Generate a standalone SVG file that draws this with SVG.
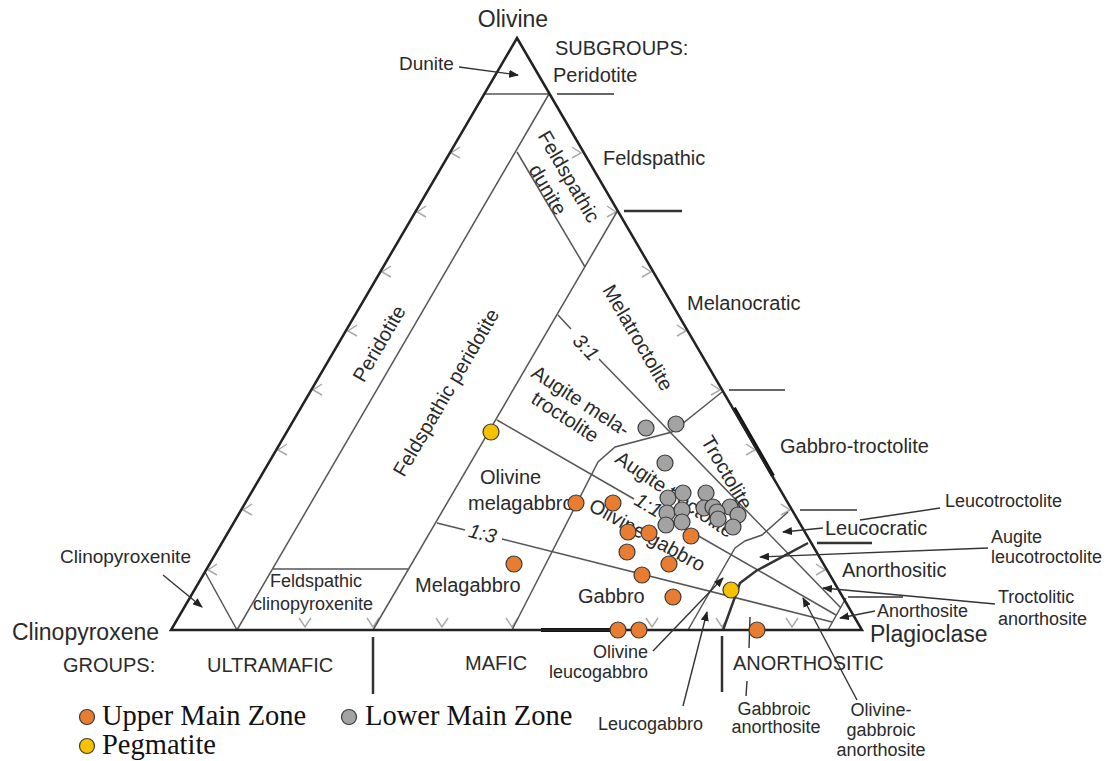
<svg xmlns="http://www.w3.org/2000/svg" width="1107" height="761" viewBox="0 0 1107 761">
<defs>
<marker id="ah" viewBox="0 0 10 8" refX="9" refY="4" markerWidth="10" markerHeight="8" markerUnits="userSpaceOnUse" orient="auto">
<path d="M0,0 L10,4 L0,8 z" fill="#222"/>
</marker>
<style>
.t{font-family:"Liberation Sans",Arial,sans-serif;fill:#2a2a2a}
.big{font-size:23px}
.md{font-size:20px}
.sm{font-size:18px}
.it{font-style:italic}
.lg{font-family:"Liberation Serif","Times New Roman",serif;font-size:28.5px;fill:#111}
.edge{fill:none;stroke:#222;stroke-width:2.5;stroke-linejoin:miter}
.ln{fill:none;stroke:#555;stroke-width:1.5}
.thk{fill:none;stroke:#111;stroke-width:4}
.dk{fill:none;stroke:#333;stroke-width:2.5}
.tk{fill:none;stroke:#666;stroke-width:2}
.ch{fill:none;stroke:#aaa;stroke-width:1.5}
.ld{fill:none;stroke:#333;stroke-width:1.4}
.ldA{fill:none;stroke:#333;stroke-width:1.4;marker-end:url(#ah)}
.o{fill:#e87d32;stroke:#3a3a3a;stroke-width:1.2}
.g{fill:#a3a3a3;stroke:#3a3a3a;stroke-width:1.2}
.y{fill:#f6c200;stroke:#3a3a3a;stroke-width:1.2}
</style>
</defs>
<rect width="1107" height="761" fill="#fff"/>

<g id="chevrons">
<path class="ch" d="M460,147 L451,153 L460,158 M426,206 L417,212 L426,217 M391,266 L382,272 L391,277 M357,325 L348,331 L357,336 M322,384 L313,390 L322,395 M287,444 L278,450 L287,455 M252,504 L243,510 L252,515 M217,564 L208,570 L217,575"/>
<path class="ch" d="M572,147 L581,153 L572,158 M607,206 L616,212 L607,217 M642,266 L651,272 L642,277 M677,325 L686,331 L677,336 M711,384 L720,390 L711,395 M746,444 L755,450 L746,455 M781,504 L790,510 L781,515 M816,564 L825,570 L816,575"/>
<path class="ch" d="M299,618 L305,627 L311,618 M367,618 L373,627 L379,618 M436,618 L442,627 L448,618 M506,618 L512,627 L518,618 M646,618 L652,627 L658,618 M716,618 L722,627 L728,618 M786,618 L792,627 L798,618"/>
</g>

<g id="field-lines">
<path class="ln" d="M484,94 H549"/>
<path class="ln" d="M549,94 L237,630"/>
<path class="ln" d="M517,152 L585,267"/>
<path class="ln" d="M618,210 L373,630"/>
<path class="ln" d="M273,569 H408"/>
<path class="ln" d="M205,572 L237,630"/>
<path class="ln" d="M722,392 L672,432 L615,447 L598,462 L512,630"/>
<path class="ln" d="M558,315 L571,329 M599,359 L841,608"/>
<path class="ln" d="M497,420 L634,499 M662,515 L836,615"/>
<path class="ln" d="M437,523 L465,530 M502,539 L832,622"/>
<path class="ln" d="M788,512 L762,535 L745,541 L735,548 L688,630"/>
<path class="ln" d="M846,598 L828,630"/>
<path class="dk" d="M808,543 L756,571 L740,583 L723,630"/>
<path class="thk" d="M541,630 H614"/>
<path class="thk" d="M734,408 L773,476"/>
</g>

<g id="triangle">
<path class="edge" d="M517,38 L862,630 L171,630 Z"/>
</g>

<g id="scale-ticks">
<path class="tk" d="M557,94 H614"/>
<path class="dk" d="M624,211 H682"/>
<path class="tk" d="M729,390 H785"/>
<path class="tk" d="M800,510 H857"/>
<path class="dk" d="M817,543 H872"/>
<path class="tk" d="M848,597 H903"/>
<path class="dk" d="M373,637 V694"/>
<path class="dk" d="M722,636 V692"/>
</g>

<g id="connectors">
<path class="ldA" d="M459,67 L518,75"/>
<path class="ldA" d="M163,575 L202,607"/>
<path class="ld" d="M940,508 L860,520"/>
<path class="ldA" d="M823,528 L783,532"/>
<path class="ldA" d="M988,548 L760,557"/>
<path class="ldA" d="M995,604 L823,588"/>
<path class="ldA" d="M875,611 L840,618"/>
<path class="ldA" d="M857,700 L803,598"/>
<path class="ld" d="M750,617 L749,648 M747,681 L746,696"/>
<path class="ldA" d="M683,706 L707,612"/>
<path class="ldA" d="M653,651 L723,578"/>
</g>

<g id="labels">
<text class="t big" x="513" y="27" text-anchor="middle">Olivine</text>
<text class="t md" x="555" y="55">SUBGROUPS:</text>
<text class="t md" x="553" y="82">Peridotite</text>
<text class="t" style="font-size:19px" x="399" y="70">Dunite</text>
<text class="t md" x="603" y="165">Feldspathic</text>
<text class="t md" x="687" y="310">Melanocratic</text>
<text class="t md" x="780" y="453">Gabbro-troctolite</text>
<text class="t md" x="825" y="535">Leucocratic</text>
<text class="t md" x="842" y="577">Anorthositic</text>
<text class="t big" x="870" y="642">Plagioclase</text>
<text class="t big" x="12" y="640">Clinopyroxene</text>
<text class="t md" x="63" y="672">GROUPS:</text>
<text class="t md" x="207" y="672">ULTRAMAFIC</text>
<text class="t md" x="465" y="670">MAFIC</text>
<text class="t md" x="733" y="670">ANORTHOSITIC</text>
<text class="t" style="font-size:19px" x="60" y="563">Clinopyroxenite</text>
<text class="t sm" x="270" y="587">Feldspathic</text>
<text class="t sm" x="253" y="610">clinopyroxenite</text>
<text class="t md" x="415" y="592">Melagabbro</text>
<text class="t md" x="578" y="603">Gabbro</text>
<text class="t md" x="480" y="484">Olivine</text>
<text class="t md" x="468" y="510">melagabbro</text>
<text class="t md" transform="translate(385,347) rotate(-59.7)" text-anchor="middle">Peridotite</text>
<text class="t md" transform="translate(452,396) rotate(-59.7)" text-anchor="middle">Feldspathic peridotite</text>
<text class="t md" transform="translate(563,180) rotate(59.7)" text-anchor="middle">Feldspathic</text>
<text class="t md" transform="translate(542,193) rotate(59.7)" text-anchor="middle">dunite</text>
<text class="t md" transform="translate(632,341) rotate(59.7)" text-anchor="middle">Melatroctolite</text>
<text class="t md" transform="translate(721,476) rotate(59.7)" text-anchor="middle">Troctolite</text>
<text class="t md" transform="translate(530,376) rotate(33)"><tspan x="0" y="0">Augite mela-</tspan><tspan x="14" y="22">troctolite</tspan></text>
<text class="t md" transform="translate(671,500) rotate(34)" text-anchor="middle">Augite troctolite</text>
<text class="t md" transform="translate(644,541) rotate(29)" text-anchor="middle">Olivine gabbro</text>
<text class="t md it" transform="translate(581,352) rotate(47)" text-anchor="middle">3:1</text>
<text class="t md it" transform="translate(645,511) rotate(30)" text-anchor="middle">1:1</text>
<text class="t md it" transform="translate(481,540) rotate(14)" text-anchor="middle">1:3</text>
<text class="t sm" x="945" y="507">Leucotroctolite</text>
<text class="t sm" x="991" y="543">Augite</text>
<text class="t sm" x="991" y="563">leucotroctolite</text>
<text class="t sm" x="998" y="603">Troctolitic</text>
<text class="t sm" x="998" y="625">anorthosite</text>
<text class="t sm" x="877" y="617">Anorthosite</text>
<text class="t sm" x="648" y="658" text-anchor="end">Olivine</text>
<text class="t sm" x="648" y="678" text-anchor="end">leucogabbro</text>
<text class="t sm" x="598" y="730">Leucogabbro</text>
<text class="t sm" x="774" y="715" text-anchor="middle">Gabbroic</text>
<text class="t sm" x="776" y="733" text-anchor="middle">anorthosite</text>
<text class="t sm" x="881" y="716" text-anchor="middle">Olivine-</text>
<text class="t sm" x="881" y="736" text-anchor="middle">gabbroic</text>
<text class="t sm" x="881" y="756" text-anchor="middle">anorthosite</text>
</g>

<g id="data-lower">
<circle class="g" cx="646" cy="428" r="8"/>
<circle class="g" cx="676" cy="424" r="8"/>
<circle class="g" cx="665" cy="463" r="8"/>
<circle class="g" cx="668" cy="498" r="8"/>
<circle class="g" cx="683" cy="493" r="8"/>
<circle class="g" cx="706" cy="493" r="8"/>
<circle class="g" cx="667" cy="513" r="8"/>
<circle class="g" cx="682" cy="510" r="8"/>
<circle class="g" cx="666" cy="525" r="8"/>
<circle class="g" cx="682" cy="522" r="8"/>
<circle class="g" cx="704" cy="508" r="8"/>
<circle class="g" cx="713" cy="507" r="8"/>
<circle class="g" cx="730" cy="507" r="8"/>
<circle class="g" cx="717" cy="512" r="8"/>
<circle class="g" cx="718" cy="519" r="8"/>
<circle class="g" cx="738" cy="515" r="8"/>
<circle class="g" cx="733" cy="527" r="8"/>
</g>
<g id="data-upper">
<circle class="o" cx="576" cy="503" r="8"/>
<circle class="o" cx="613" cy="503" r="8"/>
<circle class="o" cx="628" cy="532" r="8"/>
<circle class="o" cx="649" cy="533" r="8"/>
<circle class="o" cx="691" cy="536" r="8"/>
<circle class="o" cx="627" cy="552" r="8"/>
<circle class="o" cx="669" cy="564" r="8"/>
<circle class="o" cx="642" cy="575" r="8"/>
<circle class="o" cx="514" cy="564" r="8"/>
<circle class="o" cx="673" cy="597" r="8"/>
<circle class="o" cx="618" cy="630" r="8"/>
<circle class="o" cx="639" cy="630" r="8"/>
<circle class="o" cx="757" cy="630" r="8"/>
</g>
<g id="data-pegmatite">
<circle class="y" cx="491" cy="432" r="8"/>
<circle class="y" cx="731" cy="590" r="8"/>
</g>

<g id="legend">
<circle class="o" cx="87" cy="717" r="7.5"/>
<text class="lg" x="102" y="725">Upper Main Zone</text>
<circle class="g" cx="349" cy="717" r="7.5"/>
<text class="lg" x="365" y="725">Lower Main Zone</text>
<circle class="y" cx="87" cy="746" r="7.5"/>
<text class="lg" x="102" y="754">Pegmatite</text>
</g>
</svg>
